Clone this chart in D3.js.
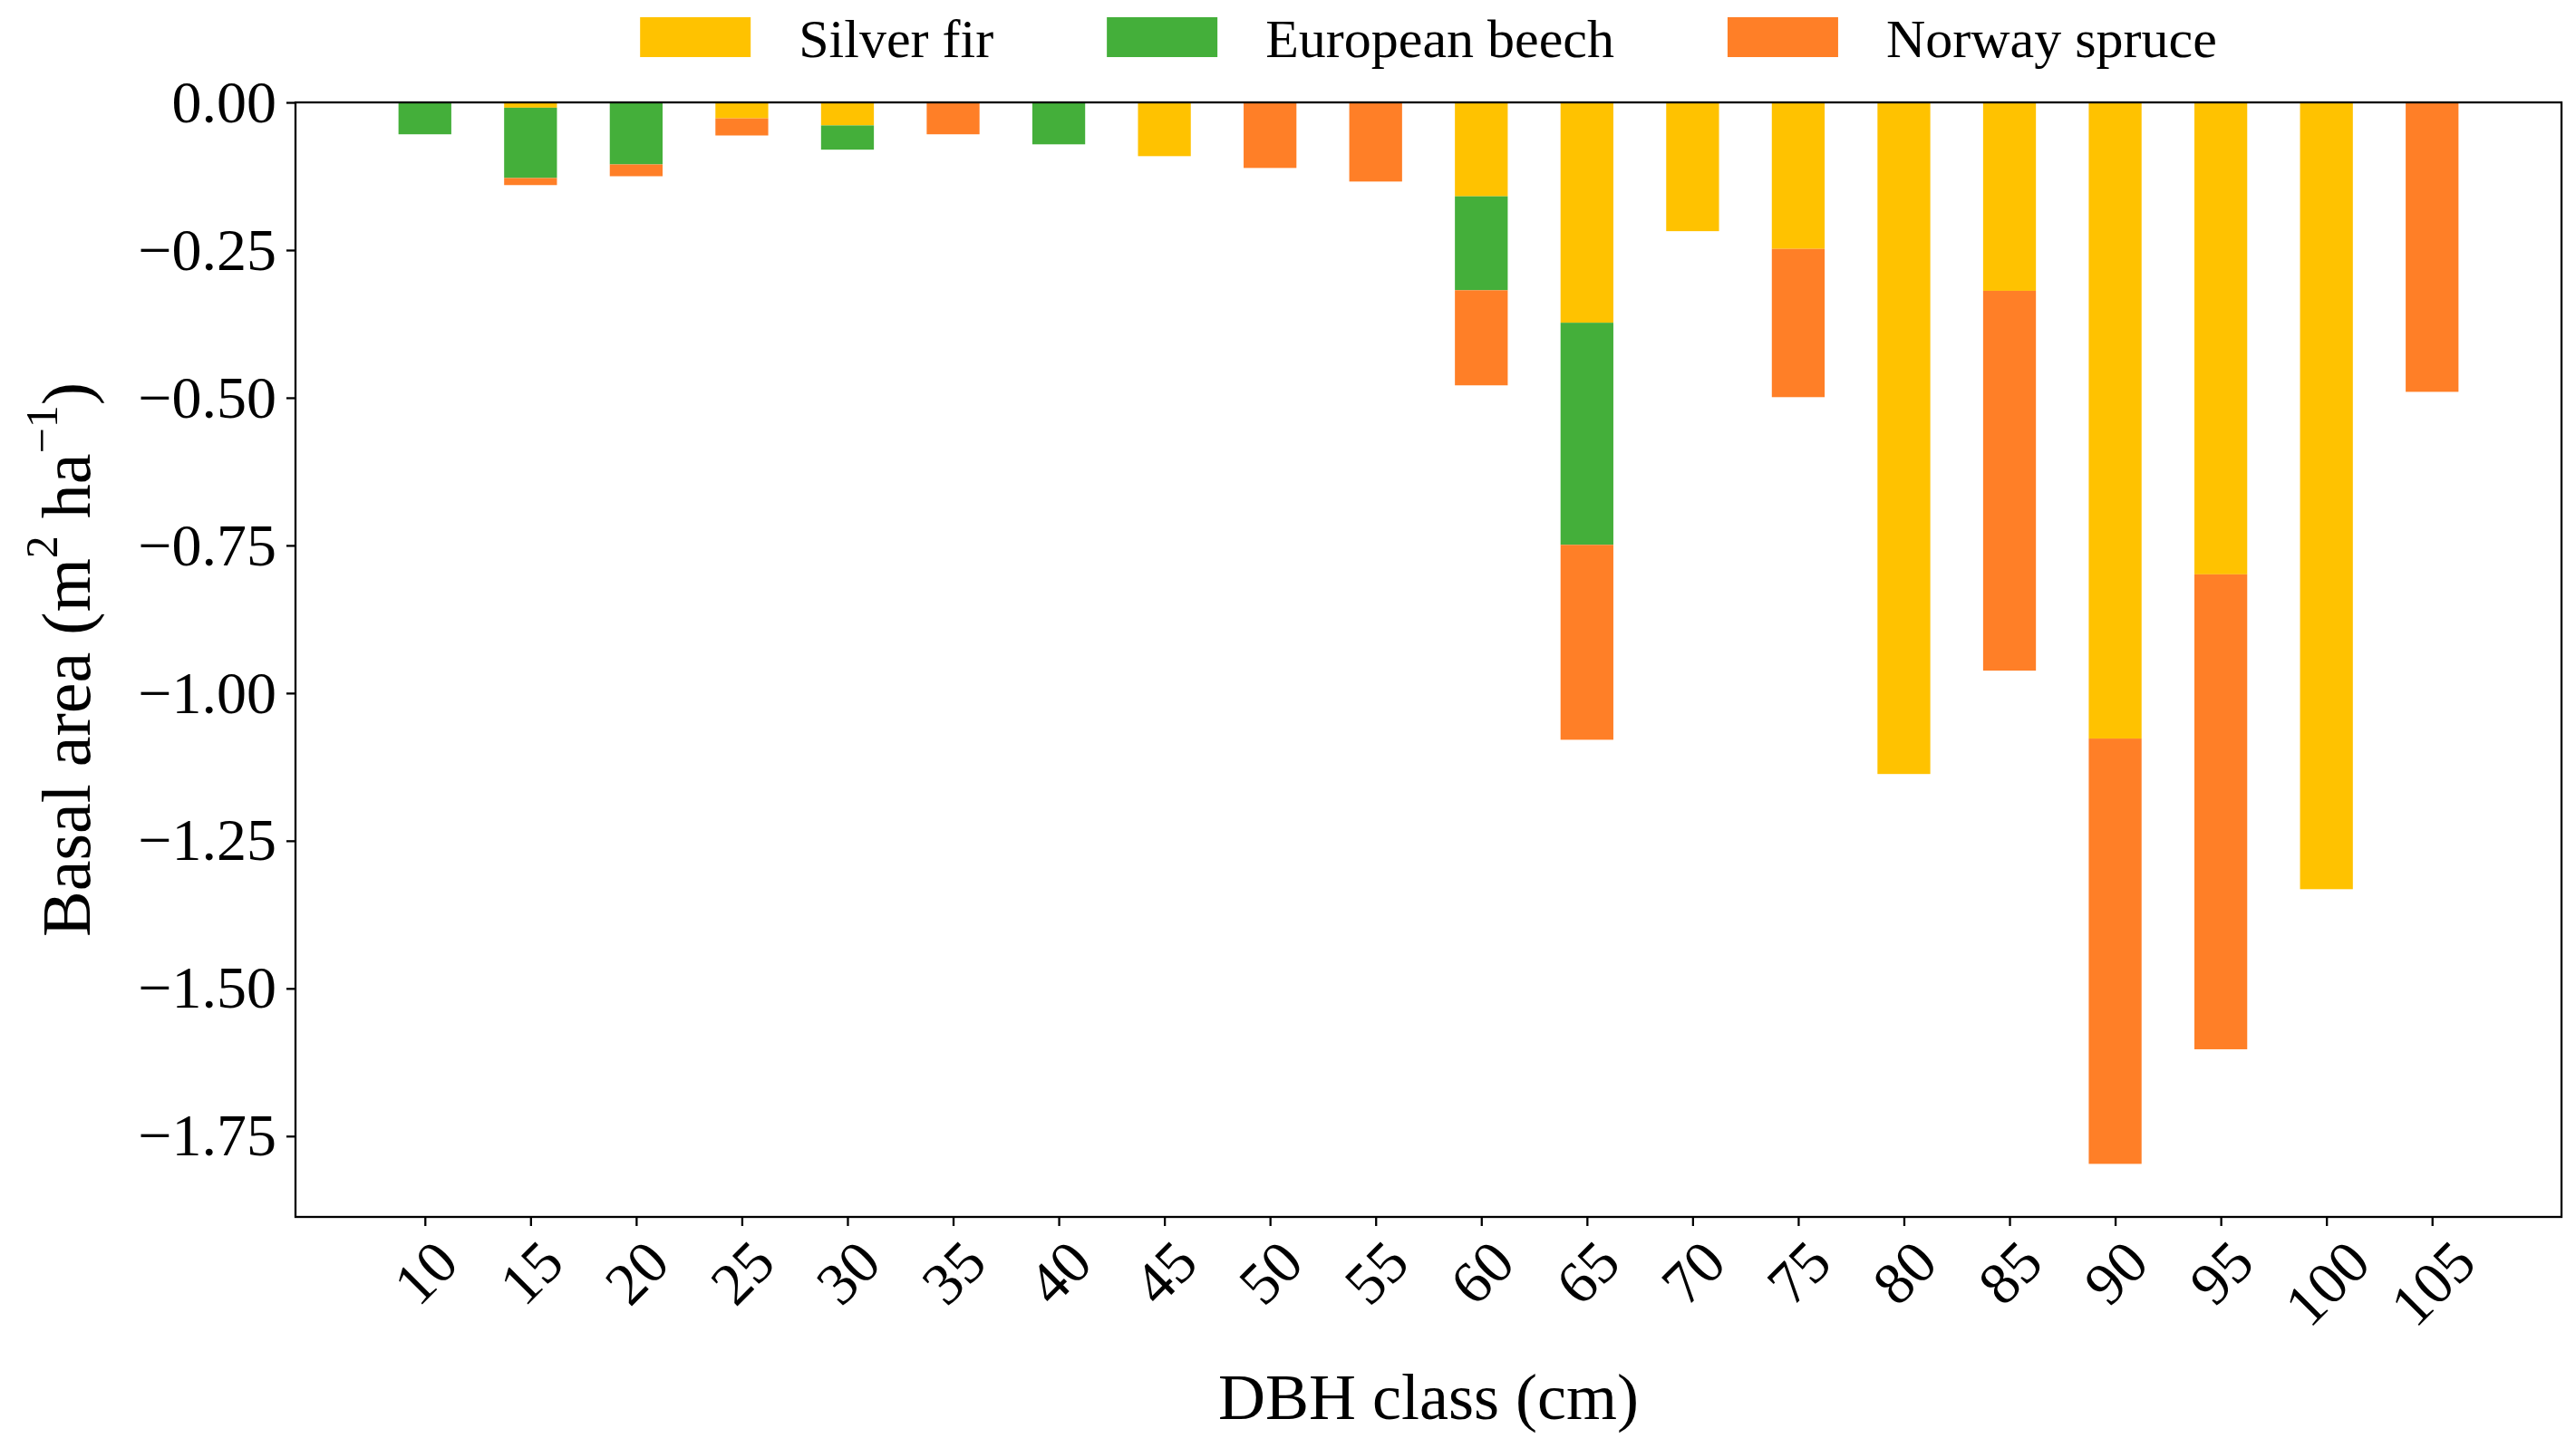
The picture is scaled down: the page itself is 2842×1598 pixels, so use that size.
<!DOCTYPE html>
<html>
<head>
<meta charset="utf-8">
<script src="https://cdn.jsdelivr.net/npm/d3@7"></script>
<style>
body{margin:0;background:#fff;}
text{font-family:"Liberation Serif","Times New Roman",serif;fill:#000;}
</style>
</head>
<body>
<svg id="chart" width="2842" height="1598"></svg>
<script>
// DBH classes (cm) and basal area loss per species (m2/ha)
const dbhClasses   = [10, 15, 20, 25, 30, 35, 40, 45, 50, 55, 60, 65, 70, 75, 80, 85, 90, 95, 100, 105];
const silverFir    = [0, -0.009, 0, -0.027, -0.039, 0, 0, -0.091, 0, 0, -0.159, -0.373, -0.218, -0.248, -1.137, -0.319, -1.077, -0.799, -1.332, 0];
const europeanBeech= [-0.054, -0.119, -0.105, 0, -0.041, 0, -0.071, 0, 0, 0, -0.159, -0.376, 0, 0, 0, 0, 0, 0, 0, 0];
const norwaySpruce = [0, -0.012, -0.020, -0.029, 0, -0.054, 0, 0, -0.111, -0.134, -0.161, -0.330, 0, -0.251, 0, -0.643, -0.720, -0.804, 0, -0.490];
const speciesNames = ["Silver fir", "European beech", "Norway spruce"];
const yTicks = [0, -0.25, -0.5, -0.75, -1.0, -1.25, -1.5, -1.75];

const colors = ["#FFC200", "#44AF3A", "#FF7F27"];
const serif = "Liberation Serif";

const svg = d3.select("#chart");
const margin = {left: 326, right: 2826, top: 113, bottom: 1343};

const keys = ["fir", "beech", "spruce"];
const rows = dbhClasses.map(function(c, i) {
    return {dbh: c, fir: silverFir[i], beech: europeanBeech[i], spruce: norwaySpruce[i]};
});
const series = d3.stack().keys(keys).offset(d3.stackOffsetDiverging)(rows);

// matplotlib-like limits: bars of width 2.5, 5% x margin, y sticky at 0
const barW = 2.5;
const xMin = d3.min(dbhClasses) - barW / 2, xMax = d3.max(dbhClasses) + barW / 2;
const xPad = (xMax - xMin) * 0.05;
const x = d3.scaleLinear().domain([xMin - xPad, xMax + xPad]).range([margin.left, margin.right]);

const yLow = d3.min(series[series.length - 1], d => d[0]);
const y = d3.scaleLinear().domain([yLow * 1.05, 0]).range([margin.bottom, margin.top]);

// bars
series.forEach(function(s, k) {
    svg.append("g").selectAll("rect")
        .data(s.filter(d => d[1] - d[0] !== 0))
        .enter().append("rect")
        .attr("x", d => x(d.data.dbh - barW / 2))
        .attr("width", d => x(d.data.dbh + barW / 2) - x(d.data.dbh - barW / 2))
        .attr("y", d => y(d[1]))
        .attr("height", d => y(d[0]) - y(d[1]))
        .attr("fill", colors[k]);
});

// y axis
const gy = svg.append("g")
    .attr("transform", "translate(" + margin.left + ",0)")
    .call(d3.axisLeft(y).tickValues(yTicks).tickFormat(d3.format(".2f")).tickSize(10).tickPadding(11));
gy.attr("font-family", serif);
gy.select(".domain").remove();
gy.selectAll("line").attr("stroke-width", 2.3);
gy.selectAll("text").attr("font-size", 66).attr("font-family", serif);

// x axis
const gx = svg.append("g")
    .attr("transform", "translate(0," + margin.bottom + ")")
    .call(d3.axisBottom(x).tickValues(dbhClasses).tickFormat(d3.format("d")).tickSize(10));
gx.attr("font-family", serif);
gx.select(".domain").remove();
gx.selectAll("line").attr("stroke-width", 2.3);
gx.selectAll("text")
    .attr("font-size", 66).attr("font-family", serif)
    .attr("text-anchor", "middle")
    .attr("dy", null)
    .attr("dominant-baseline", "central")
    .each(function() {
        const w = this.getComputedTextLength();
        const cy = 38 + w / (2 * Math.SQRT2);
        d3.select(this).attr("y", cy).attr("transform", "rotate(-45,0," + cy + ")");
    });

// frame
svg.append("rect")
    .attr("x", margin.left).attr("y", margin.top)
    .attr("width", margin.right - margin.left).attr("height", margin.bottom - margin.top)
    .attr("fill", "none").attr("stroke", "#000").attr("stroke-width", 2.3);

// axis labels
const cx = (margin.left + margin.right) / 2;
svg.append("text")
    .attr("x", cx).attr("y", 1566)
    .attr("text-anchor", "middle").attr("font-size", 72).attr("font-family", serif)
    .text("DBH class (cm)");

const yl = svg.append("text")
    .attr("transform", "translate(99," + (margin.top + margin.bottom) / 2 + ") rotate(-90)")
    .attr("text-anchor", "middle").attr("font-size", 76).attr("font-family", serif);
yl.append("tspan").text("Basal area (m");
yl.append("tspan").attr("font-size", 50).attr("dy", -36).text("2");
yl.append("tspan").attr("dy", 36).text(" ha");
yl.append("tspan").attr("font-size", 50).attr("dy", -36).text("\u22121");
yl.append("tspan").attr("dy", 36).text(")");

// legend
const patchW = 122, patchH = 44, gapText = 53, gapEntry = 125;
const lg = svg.append("g").attr("font-family", serif);
const items = speciesNames.map(function(name, i) {
    const t = lg.append("text").attr("font-size", 60).attr("font-family", serif).attr("y", 63).text(name);
    return {t: t, w: t.node().getComputedTextLength(), i: i};
});
const total = d3.sum(items, d => patchW + gapText + d.w) + gapEntry * (items.length - 1);
let lx = cx - total / 2;
items.forEach(function(d) {
    lg.append("rect").attr("x", lx).attr("y", 19).attr("width", patchW).attr("height", patchH).attr("fill", colors[d.i]);
    d.t.attr("x", lx + patchW + gapText);
    lx += patchW + gapText + d.w + gapEntry;
});
</script>
</body>
</html>
